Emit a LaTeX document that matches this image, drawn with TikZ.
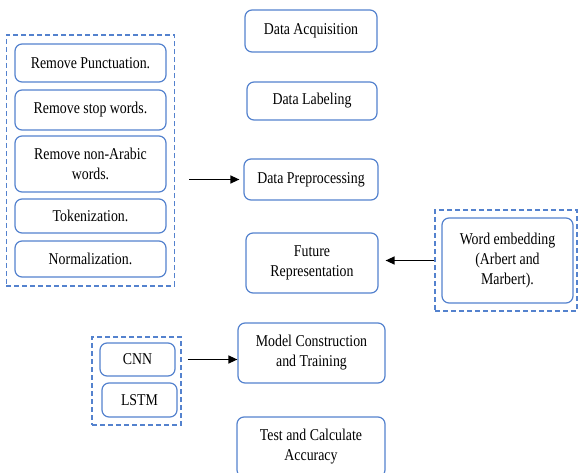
\documentclass[tikz,border=0pt]{standalone}
\usepackage{fontspec}
\setmainfont[FakeStretch=0.84]{Liberation Serif}
\usetikzlibrary{arrows.meta,fit}
\definecolor{boxblue}{RGB}{84,130,206}
\tikzset{
  x=1pt, y=-1pt,
  box/.style={draw=boxblue, line width=1.2pt, rounded corners=7pt, fill=white,
    align=center, inner sep=2pt, font=\fontsize{16.5}{20}\selectfont},
  group/.style={draw=boxblue, line width=1.3pt, dash pattern=on 5pt off 3pt},
  arr/.style={draw=black, line width=1.3pt, -{Triangle[length=9pt,width=8pt]}}
}
\begin{document}
\begin{tikzpicture}
\useasboundingbox (0,0) rectangle (578,473);

% preprocessing steps
\node[box, minimum width=151pt, minimum height=38pt] (p1) at (90.5,63) {Remove Punctuation.};
\node[box, minimum width=151pt, minimum height=40pt] (p2) at (90.5,110) {Remove stop words.};
\node[box, minimum width=151pt, minimum height=56pt] (p3) at (90.5,164) {Remove non-Arabic\\words.};
\node[box, minimum width=151pt, minimum height=34pt] (p4) at (90.5,216) {Tokenization.};
\node[box, minimum width=151pt, minimum height=36pt] (p5) at (90.5,259) {Normalization.};
\node[group, fit=(p1)(p5), inner xsep=8pt, inner ysep=8.5pt] (prepgrp) {};

% main pipeline
\node[box, minimum width=132pt, minimum height=42pt] (acq) at (311,31) {Data Acquisition};
\node[box, minimum width=130pt, minimum height=38pt] (lab) at (312,101) {Data Labeling};
\node[box, minimum width=134pt, minimum height=41pt] (pre) at (311,179.5) {Data Preprocessing};
\node[box, minimum width=132pt, minimum height=60pt] (rep) at (312,263) {Future\\Representation};
\node[box, minimum width=147pt, minimum height=60pt] (model) at (311.5,353) {Model Construction\\and Training};
\node[box, minimum width=148pt, minimum height=60pt] (test) at (311,447) {Test and Calculate\\Accuracy};

% word embedding
\node[box, minimum width=131pt, minimum height=85pt] (emb) at (507.5,260.5) {Word embedding\\(Arbert and\\Marbert).};
\node[group, minimum width=142pt, minimum height=101pt, inner sep=0pt] (embgrp) at (506,260.5) {};

% models
\node[box, minimum width=75pt, minimum height=33pt] (cnn) at (137.5,359.5) {CNN};
\node[box, minimum width=75pt, minimum height=34pt] (lstm) at (139.5,400) {LSTM};
\node[group, minimum width=89pt, minimum height=88pt, inner sep=0pt] (cnngrp) at (136.5,381) {};

% connectors
\draw[arr] ([xshift=14pt]prepgrp.east |- pre.west) -- ([xshift=-4pt]pre.west);
\draw[arr] (embgrp.west |- emb.west) -- ([xshift=7pt]rep.east |- emb.west);
\draw[arr] ([xshift=6pt]cnngrp.east |- cnn.east) -- (model.west |- cnn.east);
\end{tikzpicture}
\end{document}
